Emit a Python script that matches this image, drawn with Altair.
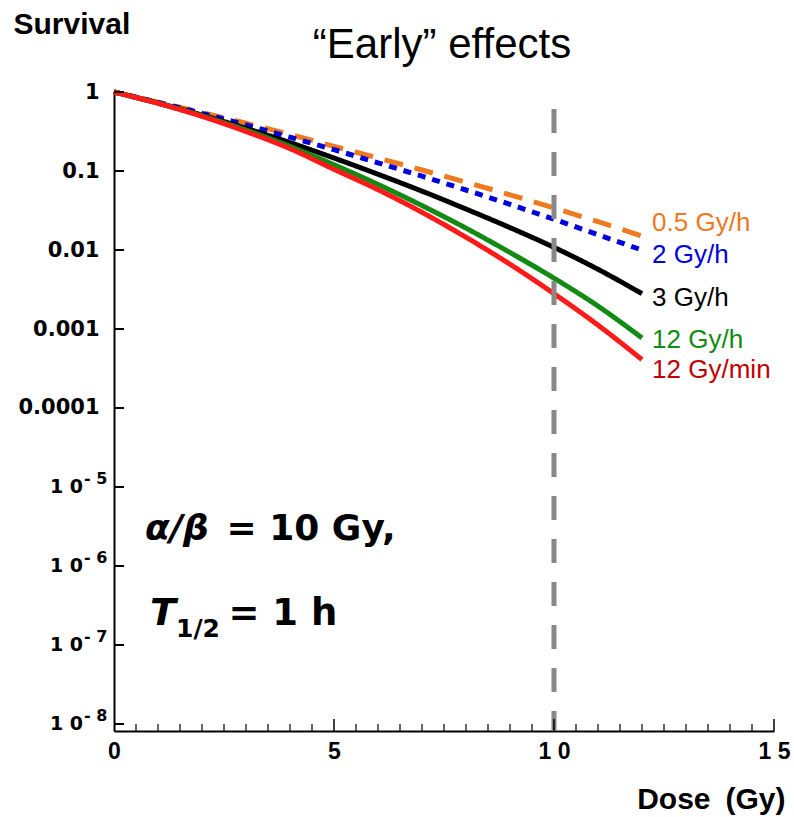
import altair as alt
import pandas as pd

# ---------------- data ----------------
doses = [0, 1, 2, 3, 4, 5, 6, 7, 8, 9, 10, 11, 12]
series_names = ["0.5 Gy/h", "2 Gy/h", "3 Gy/h", "12 Gy/h", "12 Gy/min"]
surv_0_5_gy_h = [1.0, 0.745, 0.550, 0.402, 0.290, 0.205, 0.146, 0.103, 0.072, 0.050, 0.0340, 0.0228, 0.0150]
surv_2_gy_h = [1.0, 0.738, 0.537, 0.383, 0.268, 0.186, 0.127, 0.086, 0.0575, 0.0378, 0.0245, 0.0156, 0.0100]
surv_3_gy_h = [1.0, 0.725, 0.510, 0.347, 0.229, 0.146, 0.091, 0.0556, 0.0330, 0.0192, 0.0108, 0.0057, 0.0028]
surv_12_gy_h = [1.0, 0.722, 0.500, 0.330, 0.205, 0.120, 0.0676, 0.0365, 0.0189, 0.0093, 0.0044, 0.00195, 0.00077]
surv_12_gy_min = [1.0, 0.720, 0.492, 0.316, 0.192, 0.105, 0.058, 0.0300, 0.0145, 0.0066, 0.0028, 0.00112, 0.00041]

line_colors = ["#f0781e", "#0000dd", "#000000", "#138a13", "#ff1a1a"]
label_colors = ["#f0781e", "#0000dd", "#000000", "#138a13", "#c00000"]
label_dose = [12.23, 12.23, 12.23, 12.23, 12.23]
label_surv = [0.0220, 0.00865, 0.00247, 0.000726, 0.000303]

x_tick_values = [0, 5, 10, 15]
x_minor_ticks = [0.5, 1, 1.5, 2, 2.5, 3, 3.5, 4, 4.5, 5.5, 6, 6.5, 7, 7.5, 8, 8.5, 9, 9.5,
                 10.5, 11, 11.5, 12, 12.5, 13, 13.5, 14, 14.5]
x_major_ticks = [5, 10, 15]
y_decades = [1, 0.1, 0.01, 0.001, 0.0001, 1e-5, 1e-6, 1e-7, 1e-8]
exp_values = [1e-5, 1e-6, 1e-7, 1e-8]
exp_base = ["1 0", "1 0", "1 0", "1 0"]
exp_sup = ["-\u00a05", "-\u00a06", "-\u00a07", "-\u00a08"]

marker_dose = [10]
marker_top = [1.0]
marker_bottom = [8.15e-9]

title_text = "“Early” effects"

# ---------------- tables ----------------
all_series = [surv_0_5_gy_h, surv_2_gy_h, surv_3_gy_h, surv_12_gy_h, surv_12_gy_min]
rows = []
for i, (name, vals) in enumerate(zip(series_names, all_series)):
    for d, s in zip(doses, vals):
        rows.append({"dose": d, "surv": s, "series": name, "ord": i})
df = pd.DataFrame(rows)

labels_df = pd.DataFrame({"dose": label_dose, "surv": label_surv,
                          "text": series_names, "col": label_colors})
xminor_df = pd.DataFrame({"dose": x_minor_ticks})
xmajor_df = pd.DataFrame({"dose": x_major_ticks})
ytick_df = pd.DataFrame({"surv": y_decades})
exp_df = pd.DataFrame({"surv": exp_values, "base": exp_base, "sup": exp_sup})
marker_df = pd.DataFrame({"dose": marker_dose, "top": marker_top, "surv": marker_bottom})
title_df = pd.DataFrame({"t": [title_text]})

W, H = 660, 640
x_scale = alt.Scale(domain=[0, 15], nice=False, zero=False)
y_scale = alt.Scale(type="log", domain=[8.15e-9, 1.03], nice=False)

x_axis = alt.Axis(
    values=x_tick_values, ticks=False, tickSize=0, grid=False,
    labelExpr="datum.value == 10 ? '1 0' : datum.value == 15 ? '1 5' : datum.label",
    labelFont="Liberation Sans", labelFontSize=23, labelFontWeight="bold", labelColor="black",
    labelPadding=9, labelFlush=False, labelOverlap=False,
    domainColor="black", domainWidth=2,
    title="Dose\u2002(Gy)", titleFont="Liberation Sans", titleFontSize=30, titleFontWeight="bold",
    titleColor="black", titleX=671, titleY=77, titleAlign="right", titleBaseline="alphabetic",
)
y_axis = alt.Axis(
    values=y_decades, ticks=False, tickSize=0, grid=False,
    labelExpr="datum.value >= 0.9 ? '1' : datum.value >= 0.09 ? '0.1' : datum.value >= 0.009 ? '0.01' : datum.value >= 0.0009 ? '0.001' : datum.value >= 0.00009 ? '0.0001' : ''",
    labelFont="DejaVu Sans", labelFontSize=21, labelFontWeight="bold", labelColor="black",
    labelPadding=15, labelOverlap=False, labelFlush=False,
    domainColor="black", domainWidth=2,
    title="Survival", titleFont="Liberation Sans", titleFontSize=30, titleFontWeight="bold",
    titleColor="black", titleAngle=0, titleX=-101, titleY=-58, titleAlign="left",
    titleBaseline="alphabetic",
)

X = alt.X("dose:Q", scale=x_scale)
Y = alt.Y("surv:Q", scale=y_scale)

lines = alt.Chart(df).mark_line(interpolate="monotone").encode(
    x=alt.X("dose:Q", scale=x_scale, axis=x_axis),
    y=alt.Y("surv:Q", scale=y_scale, axis=y_axis),
    color=alt.Color("series:N", scale=alt.Scale(domain=series_names, range=line_colors), legend=None),
    strokeDash=alt.StrokeDash("series:N", scale=alt.Scale(domain=series_names,
                              range=[[19, 12], [8, 7], [1, 0], [1, 0], [1, 0]]), legend=None),
    strokeWidth=alt.StrokeWidth("series:N", scale=alt.Scale(domain=series_names,
                                range=[5, 5, 2.2, 2.2, 2.2]), legend=None),
    order=alt.Order("ord:Q"),
)

marker = alt.Chart(marker_df).mark_rule(color="#888888", strokeWidth=5,
                                         strokeDash=[24, 19], strokeDashOffset=4).encode(
    x=X, y=Y, y2="top:Q",
)

yticks = alt.Chart(ytick_df).mark_rule(color="black", strokeWidth=2).encode(
    y=Y, x=alt.value(0), x2=alt.value(10))
xminor = alt.Chart(xminor_df).mark_rule(color="black", strokeWidth=1.2).encode(
    x=X, y=alt.value(H), y2=alt.value(H - 7))
xmajor = alt.Chart(xmajor_df).mark_rule(color="black", strokeWidth=1.5).encode(
    x=X, y=alt.value(H), y2=alt.value(H - 12))

exp_main = alt.Chart(exp_df).mark_text(align="right", baseline="middle", dx=-31,
                                        font="DejaVu Sans", fontSize=19,
                                        fontWeight="bold", color="black").encode(
    y=Y, x=alt.value(0), text="base:N")
exp_super = alt.Chart(exp_df).mark_text(align="left", baseline="middle", dx=-30, dy=-8,
                                         font="DejaVu Sans", fontSize=16,
                                         fontWeight="bold", color="black").encode(
    y=Y, x=alt.value(0), text="sup:N")

series_labels = alt.Chart(labels_df).mark_text(align="left", baseline="middle",
                                               font="Liberation Sans", fontSize=26).encode(
    x=X, y=Y, text="text:N",
    color=alt.Color("col:N", scale=None),
)

# annotation text (positions in data units)
ann_italic = pd.DataFrame({"dose": [0.705, 0.818], "surv": [2.13e-6, 1.79e-7],
                           "text": ["α/β", "T"], "size": [36, 38]})
ann_bold = pd.DataFrame({"dose": [2.557, 2.602], "surv": [2.13e-6, 1.79e-7],
                         "text": ["= 10 Gy,", "= 1 h"], "size": [36, 37]})
ann_sub = pd.DataFrame({"dose": [1.409], "surv": [1.26e-7], "text": ["1/2"]})

a1 = alt.Chart(ann_italic).mark_text(align="left", baseline="alphabetic", font="DejaVu Sans",
                                     fontWeight="bold", fontStyle="italic", color="black").encode(
    x=X, y=Y, text="text:N", size=alt.Size("size:Q", scale=None))
a2 = alt.Chart(ann_bold).mark_text(align="left", baseline="alphabetic", font="DejaVu Sans",
                                   fontWeight="bold", color="black").encode(
    x=X, y=Y, text="text:N", size=alt.Size("size:Q", scale=None))
a3 = alt.Chart(ann_sub).mark_text(align="left", baseline="alphabetic", font="DejaVu Sans",
                                  fontWeight="bold", fontSize=25, color="black").encode(
    x=X, y=Y, text="text:N")

title_mark = alt.Chart(title_df).mark_text(align="center", baseline="alphabetic",
                                           font="Liberation Sans", fontSize=42,
                                           color="black").encode(
    x=alt.value(W / 2 - 2), y=alt.value(-33), text="t:N")

chart = alt.layer(
    lines, marker, yticks, xminor, xmajor, exp_main, exp_super, series_labels, a1, a2, a3,
    title_mark
).properties(
    width=W, height=H,
    background="white",
    autosize=alt.AutoSizeParams(type="none"),
    padding={"left": 114, "top": 91, "right": 20, "bottom": 86},
).configure_view(strokeWidth=0, stroke="transparent")

chart.save("out.html", embed_options={"renderer": "svg", "actions": False})
